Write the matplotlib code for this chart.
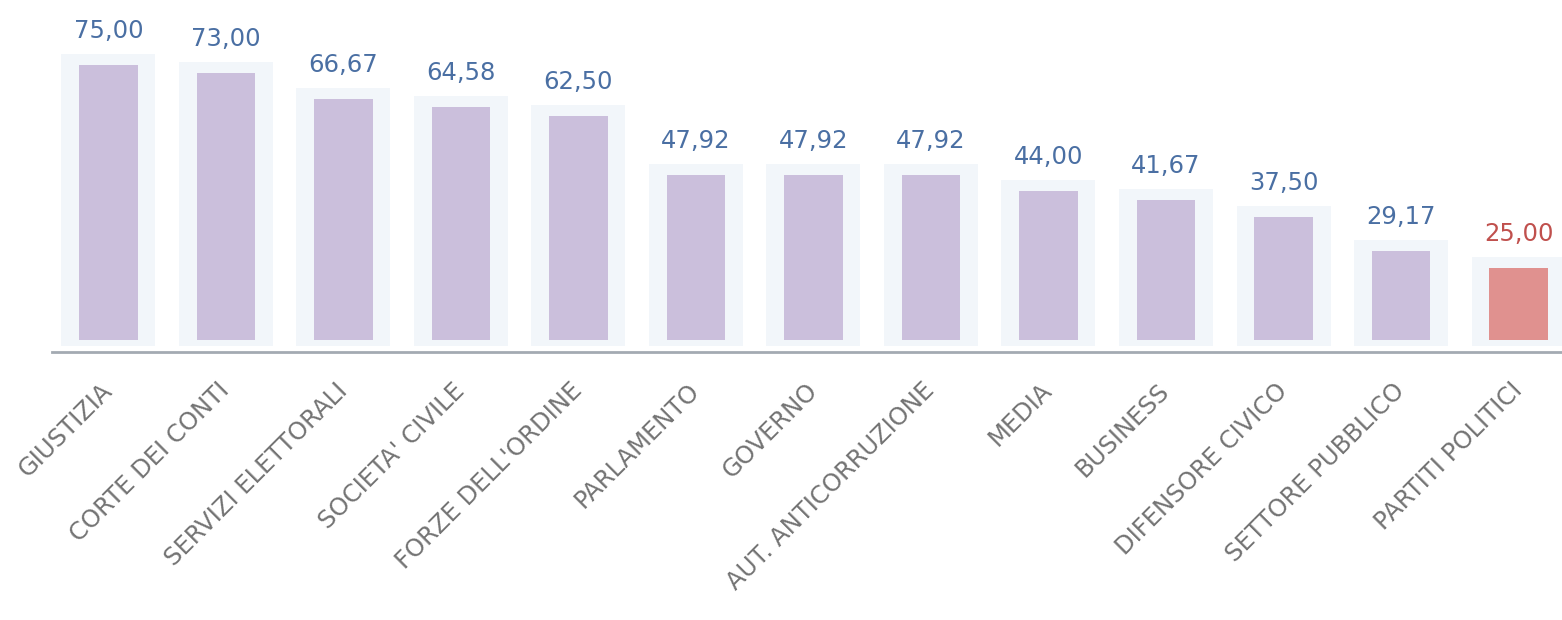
import numpy as np
import matplotlib.pyplot as plt

# Data
categories = ['GIUSTIZIA', 'CORTE DEI CONTI', 'SERVIZI ELETTORALI', "SOCIETA' CIVILE",
              "FORZE DELL'ORDINE", 'PARLAMENTO', 'GOVERNO', 'AUT. ANTICORRUZIONE',
              'MEDIA', 'BUSINESS', 'DIFENSORE CIVICO', 'SETTORE PUBBLICO', 'PARTITI POLITICI']
values = [75.00, 73.00, 66.67, 64.58, 62.50, 47.92, 47.92, 47.92, 44.00, 41.67, 37.50, 29.17, 25.00]
highlight = 'PARTITI POLITICI'

purple = '#cbbfdc'
red = '#e0918f'
blue_txt = '#4a6fa3'
red_txt = '#c0504d'
glow = '#f2f6fa'

base = 7.3  # bars start a bit above the axis line

fig = plt.figure(figsize=(15.62, 6.2), dpi=100)
ax = fig.add_axes([0.0333, 0.432, 0.9667, 0.568])

x = np.arange(len(categories))
vals = np.array(values)
colors = [red if c == highlight else purple for c in categories]
txt_colors = [red_txt if c == highlight else blue_txt for c in categories]

# soft pale panel behind each bar
ax.bar(x, vals - base + 4.2, bottom=base - 1.5, width=0.8, color=glow, zorder=1)
ax.bar(x, vals - base, bottom=base, width=0.5, color=colors, zorder=2)

for xi, v, tc in zip(x, vals, txt_colors):
    ax.annotate(f'{v:.2f}'.replace('.', ','), (xi, v), xytext=(0, 16),
                textcoords='offset points', ha='center', va='bottom',
                fontsize=17.5, color=tc, family='DejaVu Sans')

ax.set_xlim(-0.48, 12.37)
ax.set_ylim(4.3, 91)
ax.set_yticks([])
ax.set_xticks(x)
ax.set_xticklabels(categories, rotation=45, ha='right', va='center',
                   rotation_mode='anchor', fontsize=17.5, color='#737373')
ax.tick_params(axis='x', length=0, pad=25)

for s in ['top', 'right', 'left']:
    ax.spines[s].set_visible(False)
ax.spines['bottom'].set_color('#a3aab2')
ax.spines['bottom'].set_linewidth(2)

fig.savefig('out.png', dpi=100)
